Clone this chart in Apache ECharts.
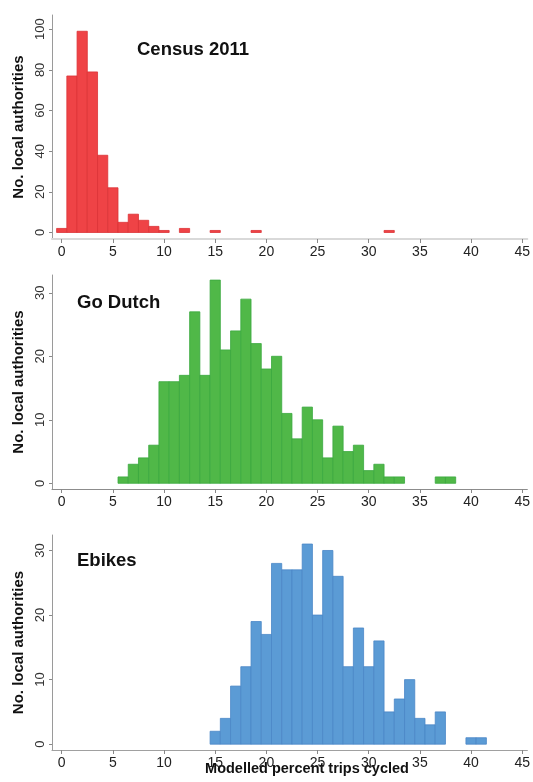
<!DOCTYPE html>
<html>
<head>
<meta charset="utf-8">
<script src="https://cdn.jsdelivr.net/npm/echarts@6/dist/echarts.min.js"></script>
<style>
html,body{margin:0;padding:0;background:#fff;}
#chart{width:533px;height:782px;}
</style>
</head>
<body>
<div id="chart"></div>
<script>
// ---- Data ----
var censusX = [0, 1, 2, 3, 4, 5, 6, 7, 8, 9, 10, 12, 15, 19, 32];
var censusCounts = [2, 77, 99, 79, 38, 22, 5, 9, 6, 3, 1, 2, 1, 1, 1];

var dutchX = [6, 7, 8, 9, 10, 11, 12, 13, 14, 15, 16, 17, 18, 19, 20, 21, 22, 23, 24, 25, 26, 27, 28, 29, 30, 31, 32, 33, 37, 38];
var dutchCounts = [1, 3, 4, 6, 16, 16, 17, 27, 17, 32, 21, 24, 29, 22, 18, 20, 11, 7, 12, 10, 4, 9, 5, 6, 2, 3, 1, 1, 1, 1];

var ebikeX = [15, 16, 17, 18, 19, 20, 21, 22, 23, 24, 25, 26, 27, 28, 29, 30, 31, 32, 33, 34, 35, 36, 37, 40, 41];
var ebikeCounts = [2, 4, 9, 12, 19, 17, 28, 27, 27, 31, 20, 30, 26, 12, 18, 12, 16, 5, 7, 10, 4, 3, 5, 1, 1];

var xTicks = [0, 5, 10, 15, 20, 25, 30, 35, 40, 45];
var censusYTicks = [0, 20, 40, 60, 80, 100];
var dutchYTicks = [0, 10, 20, 30];
var ebikeYTicks = [0, 10, 20, 30];

var panelTitles = ['Census 2011', 'Go Dutch', 'Ebikes'];
var yName = 'No. local authorities';
var xName = 'Modelled percent trips cycled';

// ---- Chart ----
var FONT = '"Liberation Sans", Arial, sans-serif';

function pairs(xs, ys) {
  return xs.map(function (x, i) { return [x, ys[i]]; });
}

function makeRender(fill, edge) {
  return function (params, api) {
    var x = api.value(0), y = api.value(1);
    var p0 = api.coord([x - 0.5, 0]);
    var p1 = api.coord([x + 0.5, y]);
    return {
      type: 'rect',
      shape: { x: p0[0], y: p1[1], width: p1[0] - p0[0], height: p0[1] - p1[1] },
      style: { fill: fill, stroke: edge, lineWidth: 0.8 }
    };
  };
}

var grids = [
  { left: 52, width: 479, top: 15, height: 224 },
  { left: 52, width: 479, top: 275, height: 214 },
  { left: 52, width: 479, top: 535, height: 215 }
];
var yRanges = [[-3.2, 107], [-0.9, 32.8], [-0.9, 32.4]];
var yTickSets = [censusYTicks, dutchYTicks, ebikeYTicks];
var xLineStyles = [
  { color: '#d9d9d9', width: 2 },
  { color: '#8c8c8c', width: 1 },
  { color: '#a0a0a0', width: 1.2 }
];

var xAxes = grids.map(function (g, i) {
  return {
    gridIndex: i, type: 'value', min: -0.95, max: 45.5,
    axisLine: { show: true, onZero: false, lineStyle: xLineStyles[i] },
    axisTick: { show: true, length: 4, customValues: xTicks, lineStyle: { color: '#888' } },
    axisLabel: { customValues: xTicks, margin: 6, fontSize: 14, color: '#222', fontFamily: FONT },
    splitLine: { show: false }
  };
});

var yAxes = grids.map(function (g, i) {
  return {
    gridIndex: i, type: 'value', min: yRanges[i][0], max: yRanges[i][1],
    name: yName, nameLocation: 'middle', nameRotate: 90, nameGap: 24,
    nameTextStyle: { fontSize: 15, fontWeight: 'bold', color: '#111', fontFamily: FONT },
    axisLine: { show: true, onZero: false, lineStyle: { color: '#9a9a9a', width: 1 } },
    axisTick: { show: true, length: 3, customValues: yTickSets[i], lineStyle: { color: '#888' } },
    axisLabel: { customValues: yTickSets[i], rotate: 90, margin: 5, fontSize: 13, color: '#333', fontFamily: FONT },
    splitLine: { show: false }
  };
});

var titleStyle = { fontSize: 18.5, fontWeight: 'bold', color: '#111', fontFamily: FONT };
var option = {
  backgroundColor: '#fff',
  animation: false,
  title: [
    { text: panelTitles[0], left: 137, top: 40, padding: 0, textStyle: titleStyle },
    { text: panelTitles[1], left: 77, top: 293, padding: 0, textStyle: titleStyle },
    { text: panelTitles[2], left: 77, top: 551, padding: 0, textStyle: titleStyle }
  ],
  grid: grids,
  xAxis: xAxes,
  yAxis: yAxes,
  graphic: [
    { type: 'text', x: 307, y: 776, style: { text: xName, textAlign: 'center', textVerticalAlign: 'bottom', fontSize: 14.5, fontWeight: 'bold', fill: '#111', fontFamily: FONT } }
  ],
  series: [
    { type: 'custom', xAxisIndex: 0, yAxisIndex: 0, data: pairs(censusX, censusCounts), renderItem: makeRender('#ef4346', '#dc3236'), clip: false },
    { type: 'custom', xAxisIndex: 1, yAxisIndex: 1, data: pairs(dutchX, dutchCounts), renderItem: makeRender('#50b848', '#3aa83f'), clip: false },
    { type: 'custom', xAxisIndex: 2, yAxisIndex: 2, data: pairs(ebikeX, ebikeCounts), renderItem: makeRender('#5b9bd5', '#4a87c6'), clip: false }
  ]
};

var chart = echarts.init(document.getElementById('chart'), null, { renderer: 'canvas' });
chart.setOption(option);
</script>
</body>
</html>
